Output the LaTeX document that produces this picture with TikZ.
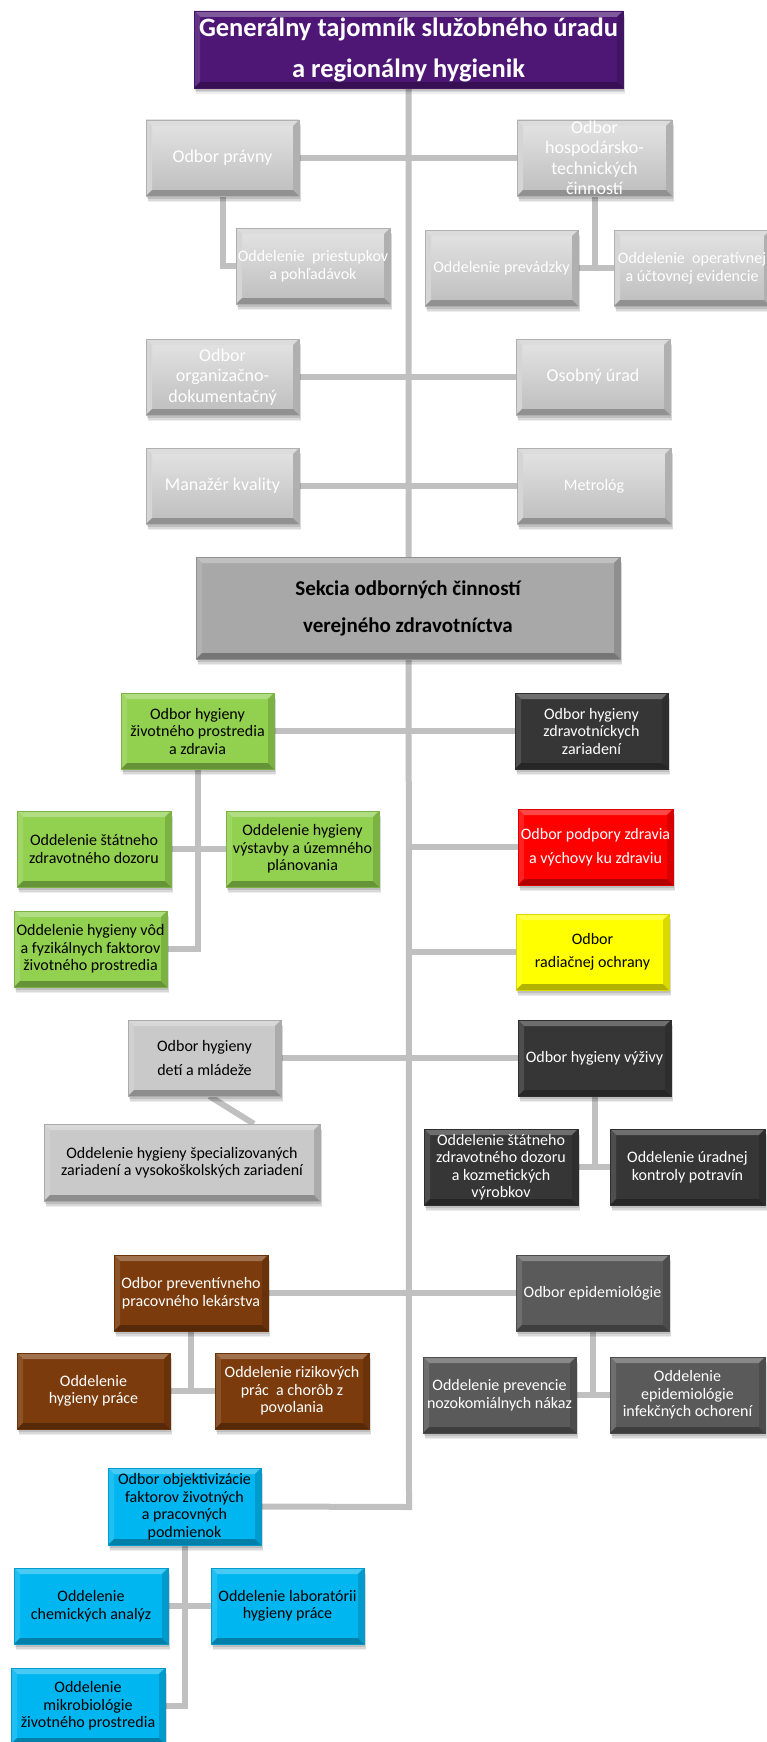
\documentclass[tikz,border=0pt]{standalone}
\usepackage{fontspec}
\setmainfont{Carlito}
\usetikzlibrary{shadows,calc}
\pgfdeclarelayer{bg}
\pgfsetlayers{bg,main}
\definecolor{cPurple}{HTML}{4E1776}
\definecolor{cLG}{HTML}{CFCFCF}
\definecolor{cLGt}{HTML}{E4E4E4}
\definecolor{cLGb}{HTML}{BDBDBD}
\definecolor{cSek}{HTML}{A8A8A8}
\definecolor{cGreen}{HTML}{92D050}
\definecolor{cDark}{HTML}{363636}
\definecolor{cRed}{HTML}{FF0000}
\definecolor{cYel}{HTML}{FFFF00}
\definecolor{cLGtwo}{HTML}{C9C9C9}
\definecolor{cBrown}{HTML}{7B3B0C}
\definecolor{cGray}{HTML}{5A5A5A}
\definecolor{cCyan}{HTML}{00B6F0}
\definecolor{cLine}{HTML}{C0C0C0}
\newcommand\myfA{\fontsize{16}{17.5}\selectfont}
\newcommand\myfB{\fontsize{18}{20.5}\selectfont}
\newcommand\myfC{\fontsize{16}{18}\selectfont}
\newcommand\myfT{\fontsize{26.5}{41}\selectfont\bfseries}
\newcommand\myfS{\fontsize{21}{37}\selectfont\bfseries}
\tikzset{
  bx/.style={rectangle, inner sep=0pt, align=center, fill=#1, draw=#1!85!black, line width=0.4pt,
    minimum width=153pt, minimum height=76pt,
    drop shadow={shadow xshift=2pt, shadow yshift=-6pt, opacity=0.07, fill=black},
    drop shadow={shadow xshift=1.5pt, shadow yshift=-4.5pt, opacity=0.09, fill=black},
    drop shadow={shadow xshift=1pt, shadow yshift=-3pt, opacity=0.12, fill=black},
    path picture={
      \fill[#1!72!white] (path picture bounding box.north west) -- (path picture bounding box.north east) -- ([shift={(-6pt,-6pt)}]path picture bounding box.north east) -- ([shift={(6pt,-6pt)}]path picture bounding box.north west) -- cycle;
      \fill[#1!88!white] (path picture bounding box.north west) -- ([shift={(6pt,-6pt)}]path picture bounding box.north west) -- ([shift={(6pt,6pt)}]path picture bounding box.south west) -- (path picture bounding box.south west) -- cycle;
      \fill[#1!85!black] (path picture bounding box.north east) -- ([shift={(-6pt,-6pt)}]path picture bounding box.north east) -- ([shift={(-6pt,6pt)}]path picture bounding box.south east) -- (path picture bounding box.south east) -- cycle;
      \fill[#1!70!black] (path picture bounding box.south west) -- ([shift={(6pt,6pt)}]path picture bounding box.south west) -- ([shift={(-6pt,6pt)}]path picture bounding box.south east) -- (path picture bounding box.south east) -- cycle;
    }},
  topg/.style={bx=cLG, top color=cLGt, bottom color=cLGb, text=white},
  conn/.style={draw=cLine, line width=6pt}
}
\begin{document}
\begin{tikzpicture}[x=1pt,y=-1pt]
\useasboundingbox (0,0) rectangle (766,1742);
% top
\node[bx=cPurple, minimum width=429pt, minimum height=77pt, text=white, font=\myfT] (gen) at (408.5,49.5) {Generálny tajomník služobného úradu\\a regionálny hygienik};
\node[topg, font=\myfB] (pravny) at (222.5,158) {Odbor právny};
\node[topg, minimum width=155pt, font=\myfB] (hosp) at (594.5,158) {Odbor\\hospodársko-\\technických\\činností};
\node[topg, minimum width=154pt, font=\myfC] (priest) at (313,266) {Oddelenie\ \ priestupkov\\a pohľadávok};
\node[topg, font=\myfC] (prev) at (501.5,268) {Oddelenie prevádzky};
\node[topg, minimum width=156pt, font=\myfC] (oper) at (692,268) {Oddelenie\ \ operatívnej\\a účtovnej evidencie};
\node[topg, font=\myfB] (org) at (222.5,377) {Odbor\\organizačno-\\dokumentačný};
\node[topg, minimum width=154pt, font=\myfB] (osob) at (593,377) {Osobný úrad};
\node[topg, font=\myfB] (manaz) at (222.5,486) {Manažér kvality};
\node[topg, minimum width=154pt, font=\myfC] (metro) at (594,486) {Metrológ};
\node[bx=cSek, minimum width=424pt, minimum height=102pt, font=\myfS] (sek) at (408,608) {Sekcia odborných činností\\verejného zdravotníctva};
% lower left
\node[bx=cGreen, font=\myfA] (zpz) at (197.5,731) {Odbor hygieny\\životného prostredia\\a zdravia};
\node[bx=cGreen, minimum width=154pt, font=\myfA] (sdoz) at (94,849) {Oddelenie štátneho\\zdravotného dozoru};
\node[bx=cGreen, font=\myfA] (vyst) at (302.5,849) {Oddelenie hygieny\\výstavby a územného\\plánovania};
\node[bx=cGreen, font=\myfA] (vod) at (90.5,949) {Oddelenie hygieny vôd\\a fyzikálnych faktorov\\životného prostredia};
\node[bx=cLGtwo, font=\myfA] (deti) at (204.5,1058) {Odbor hygieny\\[6pt]detí a mládeže};
\node[bx=cLGtwo, minimum width=276pt, minimum height=77pt, font=\myfA] (spec) at (182,1162.5) {Oddelenie hygieny špecializovaných\\zariadení a vysokoškolských zariadení};
\node[bx=cBrown, minimum width=154pt, text=white, font=\myfA] (prevl) at (191,1293) {Odbor preventívneho\\pracovného lekárstva};
\node[bx=cBrown, text=white, font=\myfA] (hprace) at (93.5,1391) {Oddelenie\\hygieny práce};
\node[bx=cBrown, minimum width=154pt, text=white, font=\myfA] (riz) at (292,1391) {Oddelenie rizikových\\prác\ \ a chorôb z\\povolania};
\node[bx=cCyan, minimum height=77pt, font=\myfA] (obj) at (184.5,1506.5) {Odbor objektivizácie\\faktorov životných\\a pracovných\\podmienok};
\node[bx=cCyan, minimum width=154pt, font=\myfA] (chem) at (91,1606) {Oddelenie\\chemických analýz};
\node[bx=cCyan, font=\myfA] (lab) at (287.5,1606) {Oddelenie laboratórii\\hygieny práce};
\node[bx=cCyan, minimum width=154pt, font=\myfA] (mikro) at (88,1706) {Oddelenie\\mikrobiológie\\životného prostredia};
% lower right
\node[bx=cDark, text=white, font=\myfA] (zz) at (591.5,731) {Odbor hygieny\\zdravotníckych\\zariadení};
\node[bx=cRed, minimum width=155pt, text=white, font=\myfA] (podp) at (595.5,847) {Odbor podpory zdravia\\[7pt]a výchovy ku zdraviu};
\node[bx=cYel, font=\myfA] (rad) at (592.5,952) {Odbor\\[6pt]radiačnej ochrany};
\node[bx=cDark, text=white, font=\myfA] (vyz) at (594.5,1058) {Odbor hygieny výživy};
\node[bx=cDark, minimum width=154pt, text=white, font=\myfA] (sdk) at (501,1167) {Oddelenie štátneho\\zdravotného dozoru\\a kozmetických\\výrobkov};
\node[bx=cDark, minimum width=155pt, text=white, font=\myfA] (urad) at (687.5,1167) {Oddelenie úradnej\\kontroly potravín};
\node[bx=cGray, text=white, font=\myfA] (epid) at (592.5,1293) {Odbor epidemiológie};
\node[bx=cGray, text=white, font=\myfA] (nozo) at (499.5,1395) {Oddelenie prevencie\\nozokomiálnych nákaz};
\node[bx=cGray, minimum width=155pt, text=white, font=\myfA] (infek) at (687.5,1395) {Oddelenie\\epidemiológie\\infekčných ochorení};
\coordinate (tend) at (409,1507);
% connectors
\begin{pgfonlayer}{bg}
\draw[conn] (gen.south) -- (tend) -- (obj.east);
\draw[conn] (pravny.east) -- (hosp.west);
\draw[conn] (org.east) -- (osob.west);
\draw[conn] (manaz.east) -- (metro.west);
\draw[conn] (pravny.south) |- (priest.west);
\draw[conn] (hosp.south) -- (hosp.south |- prev.east);
\draw[conn] (prev.east) -- (oper.west);
\draw[conn] (zpz.east) -- (zz.west);
\draw[conn] (podp.west) -- (podp.west -| tend);
\draw[conn] (rad.west) -- (rad.west -| tend);
\draw[conn] (deti.east) -- (vyz.west);
\draw[conn] (prevl.east) -- (epid.west);
\draw[conn] (zpz.south) |- (vod.east);
\draw[conn] (sdoz.east) -- (vyst.west);
\draw[conn] ([xshift=5pt]deti.south) -- ($(spec.north west)!0.76!(spec.north east)$);
\draw[conn] (vyz.south) -- (vyz.south |- sdk.east);
\draw[conn] (sdk.east) -- (urad.west);
\draw[conn] (prevl.south) -- (prevl.south |- hprace.east);
\draw[conn] (hprace.east) -- (riz.west);
\draw[conn] (epid.south) -- (epid.south |- nozo.east);
\draw[conn] (nozo.east) -- (infek.west);
\draw[conn] (obj.south) |- (mikro.east);
\draw[conn] (chem.east) -- (lab.west);
\end{pgfonlayer}
\end{tikzpicture}
\end{document}
